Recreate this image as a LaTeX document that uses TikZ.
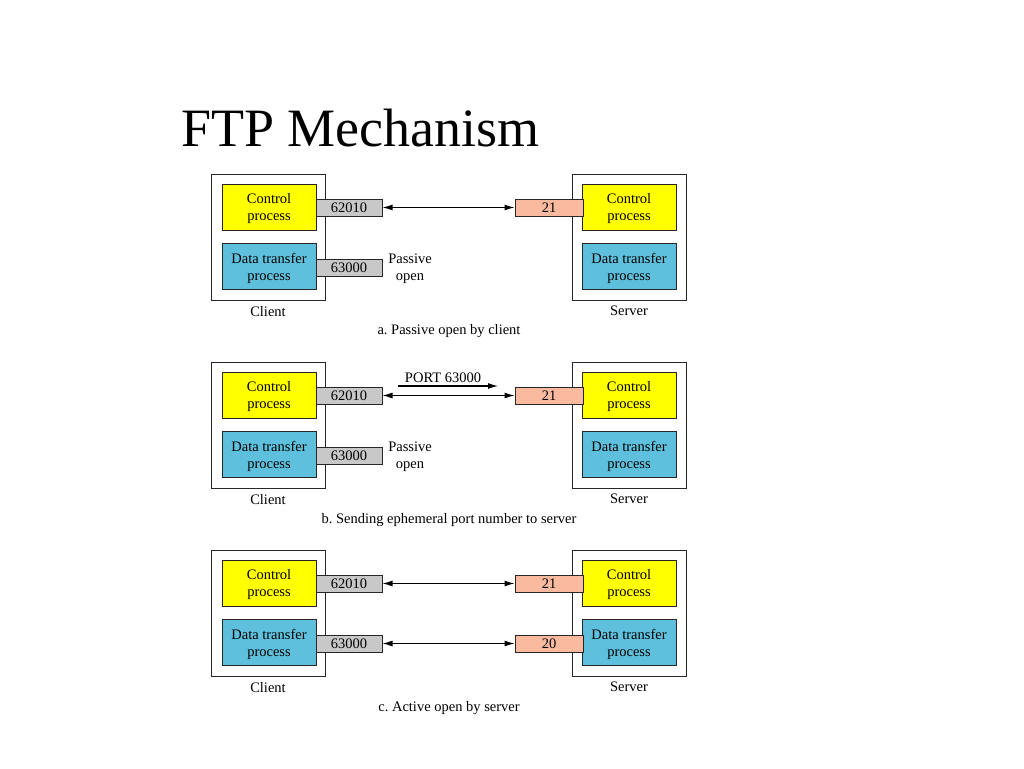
\documentclass[tikz,border=0pt]{standalone}
\usepackage{fontspec}
\setmainfont{Liberation Serif}
\usetikzlibrary{arrows.meta}

\definecolor{ctrlyellow}{RGB}{255,255,0}
\definecolor{datablue}{RGB}{94,192,220}
\definecolor{portgray}{RGB}{200,200,200}
\definecolor{portsalmon}{RGB}{250,186,160}
\newcommand{\diagfont}{\fontsize{14.5}{17}\selectfont}
\frenchspacing

\tikzset{
  hostbox/.style={draw=black!85, line width=1pt, minimum width=114pt, minimum height=126pt, inner sep=0},
  ctrlbox/.style={draw=black!85, line width=1pt, fill=ctrlyellow, minimum width=94pt, minimum height=46pt, inner sep=0, align=center, font=\diagfont, text depth=-2.5pt},
  databox/.style={ctrlbox, fill=datablue},
  clientport/.style={draw=black!85, line width=1pt, fill=portgray, minimum width=66pt, minimum height=17pt, inner sep=0, font=\diagfont},
  serverport/.style={clientport, fill=portsalmon, minimum width=68pt},
  txt/.style={inner sep=0, align=center, font=\diagfont, text depth=-2pt},
  link/.style={{Latex[length=10pt,width=6pt]}-{Latex[length=10pt,width=6pt]}, line width=1.1pt},
  msg/.style={-{Latex[length=10pt,width=6pt]}, line width=1.1pt}
}

\begin{document}
\begin{tikzpicture}[x=1pt, y=-1pt]
% Page frame
\useasboundingbox[fill=white] (0,0) rectangle (1024,768);

% Title
\node[anchor=west, inner sep=0, font=\fontsize{54}{60}\selectfont] (title) at (181,128) {FTP Mechanism};

% a. Passive open by client
\node[hostbox] (clientA) at (268,237) {};
\node[ctrlbox] (cctrlA) at (269,207) {Control\\process};
\node[databox] (cdataA) at (269,266.5) {Data transfer\\process};
\node[clientport] (cportA) at (349,207.5) {62010};
\node[clientport] (dportA) at (349,267.5) {63000};
\node[txt] (passA) at (410,267) {Passive\\open};
\node[hostbox] (serverA) at (629.5,237) {};
\node[ctrlbox] (sctrlA) at (629,207) {Control\\process};
\node[databox] (sdataA) at (629,266.5) {Data transfer\\process};
\node[serverport] (sportA) at (549,207.5) {21};
\draw[link] (cportA) -- (sportA);
\node[txt] (clabA) at (268,311) {Client};
\node[txt] (slabA) at (629,311) {Server};
\node[txt] (capA) at (449,329) {a. Passive open by client};

% b. Sending ephemeral port number to server
\node[hostbox] (clientB) at (268,425) {};
\node[ctrlbox] (cctrlB) at (269,395) {Control\\process};
\node[databox] (cdataB) at (269,454.5) {Data transfer\\process};
\node[clientport] (cportB) at (349,395.5) {62010};
\node[clientport] (dportB) at (349,455.5) {63000};
\node[txt] (passB) at (410,455) {Passive\\open};
\node[hostbox] (serverB) at (629.5,425) {};
\node[ctrlbox] (sctrlB) at (629,395) {Control\\process};
\node[databox] (sdataB) at (629,454.5) {Data transfer\\process};
\node[serverport] (sportB) at (549,395.5) {21};
\draw[link] (cportB) -- (sportB);
\node[txt] (portmsg) at (443,378) {PORT 63000};
\coordinate (msgstart) at (398,386);
\coordinate (msgend) at (498,386);
\draw[msg] (msgstart) -- (msgend);
\node[txt] (clabB) at (268,499) {Client};
\node[txt] (slabB) at (629,499) {Server};
\node[txt] (capB) at (449,518) {b. Sending ephemeral port number to server};

% c. Active open by server
\node[hostbox] (clientC) at (268,613) {};
\node[ctrlbox] (cctrlC) at (269,583) {Control\\process};
\node[databox] (cdataC) at (269,642.5) {Data transfer\\process};
\node[clientport] (cportC) at (349,583.5) {62010};
\node[clientport] (dportC) at (349,643.5) {63000};
\node[hostbox] (serverC) at (629.5,613) {};
\node[ctrlbox] (sctrlC) at (629,583) {Control\\process};
\node[databox] (sdataC) at (629,642.5) {Data transfer\\process};
\node[serverport] (sportC) at (549,583.5) {21};
\node[serverport] (sdportC) at (549,643.5) {20};
\draw[link] (cportC) -- (sportC);
\draw[link] (dportC) -- (sdportC);
\node[txt] (clabC) at (268,687) {Client};
\node[txt] (slabC) at (629,687) {Server};
\node[txt] (capC) at (449,706) {c. Active open by server};
\end{tikzpicture}
\end{document}
